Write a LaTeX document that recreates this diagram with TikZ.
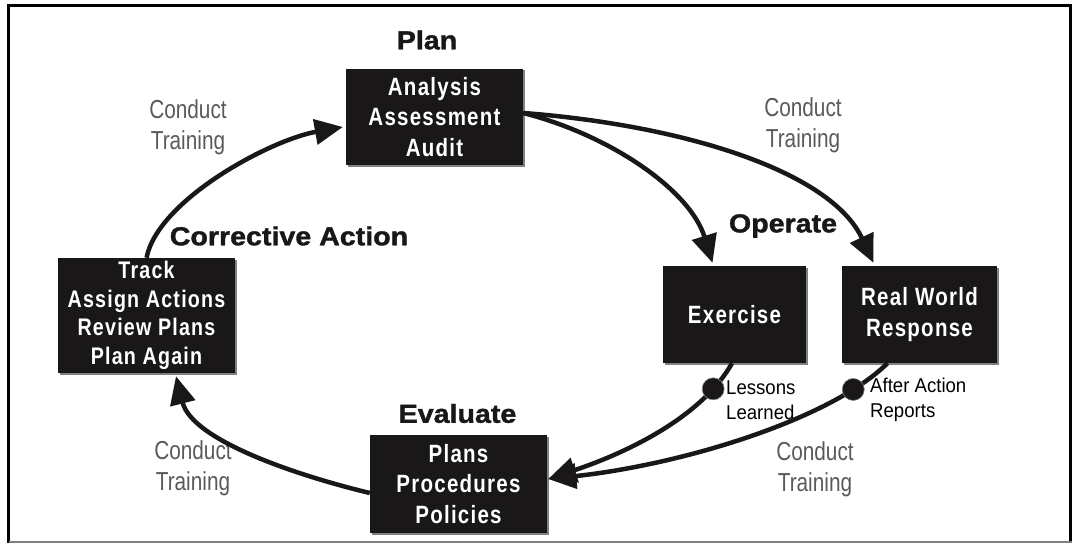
\documentclass[tikz,border=0pt]{standalone}
\usepackage{fontspec}
\setmainfont{Liberation Sans}
\newfontfamily\boxfont[FakeStretch=0.82,LetterSpace=5]{Liberation Sans}
\newfontfamily\headfont[FakeStretch=1.1,FakeBold=1.5]{Liberation Sans}
\newfontfamily\condfont[FakeStretch=0.8]{Liberation Sans}
\newfontfamily\notefont[FakeStretch=0.93]{Liberation Sans}
\usetikzlibrary{arrows.meta,calc,shadows}
\definecolor{boxblack}{RGB}{26,23,24}
\definecolor{labelgray}{RGB}{90,90,90}
\begin{document}
\begin{tikzpicture}[x=1pt,y=1pt,
  stagebox/.style={fill=boxblack, text=white, inner sep=0pt, align=center,
    font=\boxfont\bfseries\fontsize{25}{30.5}\selectfont,
    drop shadow={shadow xshift=1.5pt, shadow yshift=-1.5pt, fill=gray, opacity=1}},
  heading/.style={font=\headfont\bfseries\fontsize{26}{28}\selectfont, text=boxblack, inner sep=0pt},
  training/.style={font=\condfont\fontsize{26}{31}\selectfont, text=labelgray, align=center, inner sep=0pt},
  note/.style={font=\notefont\fontsize{20}{25}\selectfont, text=black, align=left, inner sep=0pt, anchor=west},
  flow/.style={line width=4.5pt, draw=boxblack, -{Triangle[length=28pt,width=25pt]}},
  dot/.style={circle, fill=boxblack, draw=gray, line width=0.6pt, minimum size=22pt, inner sep=0pt}
]
\useasboundingbox (0,0) rectangle (1072,-543);
% frame
\draw[line width=3pt, black] (8.5,-543) -- (8.5,-5.5) -- (1070.5,-5.5) -- (1070.5,-543);
\draw[line width=2pt, gray] (8.5,-541.5) -- (1072,-541.5);

% boxes
\node[stagebox, minimum width=177pt, minimum height=96pt] (ana) at (434.5,-117) {Analysis\\Assessment\\Audit};
\node[stagebox, minimum width=143pt, minimum height=97pt] (exe) at (734.5,-314.5) {Exercise};
\node[stagebox, minimum width=155pt, minimum height=97pt] (rw) at (919.5,-314.5) {Real World\\Response};
\node[stagebox, minimum width=177pt, minimum height=98pt] (plans) at (458.5,-484) {Plans\\Procedures\\Policies};
\node[stagebox, minimum width=177pt, minimum height=115pt, font=\boxfont\bfseries\fontsize{24}{28.5}\selectfont] (track) at (146.5,-315.5) {Track\\Assign Actions\\Review Plans\\Plan Again};

% headings
\node[heading] (hplan) at (427,-40) {Plan};
\node[heading] (hcorr) at (289,-236) {Corrective Action};
\node[heading] (hoper) at (783,-226) {Operate};
\node[heading] (heval) at (457.5,-413.5) {Evaluate};

% training labels
\node[training] (t1) at (188,-127) {Conduct\\Training};
\node[training] (t2) at (803,-125) {Conduct\\Training};
\node[training] (t3) at (193,-468) {Conduct\\Training};
\node[training] (t4) at (815,-469) {Conduct\\Training};

% notes
\node[note] (n1) at (726,-400) {Lessons\\Learned};
\node[note] (n2) at (870,-400) {After Action\\Reports};

% connection points
\coordinate (anaout) at ($(ana.east)+(0,4)$);
\coordinate (anain) at ($(ana.west)+(-3,-10)$);
\coordinate (exein) at ($(exe.north)+(-22,3)$);
\coordinate (rwin) at ($(rw.north)+(-46,3)$);
\coordinate (exeout) at ($(exe.south)+(-2.5,0)$);
\coordinate (rwout) at ($(rw.south)+(-32,0)$);
\coordinate (plansin) at ($(plans.east)+(1,5)$);
\coordinate (plansout) at ($(plans.west)+(0,-9)$);
\coordinate (trackin) at ($(track.south)+(29.5,-3)$);

% arrows
\draw[flow] (track.north) .. controls (158,-200) and (270,-140) .. (anain);
\draw[flow] (anaout) .. controls (610,-135) and (690,-190) .. (exein);
\draw[flow] (anaout) .. controls (680,-125) and (830,-170) .. (rwin);
\draw[flow] (exeout) .. controls (700,-420) and (620,-455) .. (plansin) node[dot, pos=0.16] (d1) {};
\draw[flow] (rwout) .. controls (830,-420) and (680,-465) .. (plansin) node[dot, pos=0.16] (d2) {};
\draw[flow] (plansout) .. controls (295,-475) and (192,-440) .. (trackin);
\end{tikzpicture}
\end{document}
